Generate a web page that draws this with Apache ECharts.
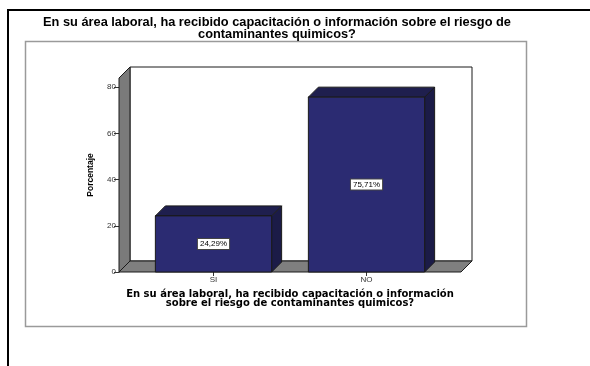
<!DOCTYPE html>
<html>
<head>
<meta charset="utf-8">
<script src="https://cdn.jsdelivr.net/npm/echarts@6/dist/echarts.min.js"></script>
<style>
  html, body { margin: 0; padding: 0; background: #fff; }
  #chart { width: 590px; height: 366px; }
</style>
</head>
<body>
<div id="chart"></div>
<script>
// Data
const categories = ['SI', 'NO'];
const percentages = [24.29, 75.71];
const yTicks = [0, 20, 40, 60, 80];

// Texts
const chartTitle = 'En su área laboral, ha recibido capacitación o información sobre el riesgo de\ncontaminantes quimicos?';
const xAxisTitle = 'En su área laboral, ha recibido capacitación o información\nsobre el riesgo de contaminantes quimicos?';
const yAxisTitle = 'Porcentaje';

// 3D look
const BAR_DEPTH = 10;
const WALL_DEPTH = 11;
const FLOOR_PAD = 18;
const BAR_RATIO = 0.76;
const EDGE = '#1a1a1a';

function formatPct(v) {
  return v.toFixed(2).replace('.', ',') + '%';
}

// Side wall, back wall and floor of the 3D box
function renderBackdrop(params, api) {
  const cs = params.coordSys;
  const top = cs.y;
  const base = cs.y + cs.height;
  const xl = cs.x - FLOOR_PAD;
  const xr = cs.x + cs.width + FLOOR_PAD;
  const d = WALL_DEPTH;
  return {
    type: 'group',
    children: [
      {
        type: 'rect',
        shape: { x: xl + d, y: top - d, width: xr - xl, height: base - top },
        style: { fill: '#ffffff', stroke: EDGE, lineWidth: 1 }
      },
      {
        type: 'polygon',
        shape: { points: [[xl, top], [xl + d, top - d], [xl + d, base - d], [xl, base]] },
        style: { fill: '#7a7a7a', stroke: EDGE, lineWidth: 1 }
      },
      {
        type: 'polygon',
        shape: { points: [[xl, base], [xl + d, base - d], [xr + d, base - d], [xr, base]] },
        style: { fill: '#7f7f7f', stroke: EDGE, lineWidth: 1 }
      }
    ]
  };
}

// Extruded bar with a boxed value label on its front face
function renderBar(params, api) {
  const idx = api.value(0);
  const val = api.value(1);
  const topPt = api.coord([idx, val]);
  const basePt = api.coord([idx, 0]);
  const w = api.size([1, 0])[0] * BAR_RATIO;
  const x0 = topPt[0] - w / 2, x1 = topPt[0] + w / 2;
  const y0 = topPt[1], y1 = basePt[1];
  const d = BAR_DEPTH;
  return {
    type: 'group',
    children: [
      {
        type: 'polygon',
        shape: { points: [[x1, y0], [x1 + d, y0 - d], [x1 + d, y1 - d], [x1, y1]] },
        style: { fill: '#1b1b47', stroke: EDGE, lineWidth: 1 }
      },
      {
        type: 'polygon',
        shape: { points: [[x0, y0], [x0 + d, y0 - d], [x1 + d, y0 - d], [x1, y0]] },
        style: { fill: '#1f1f4e', stroke: EDGE, lineWidth: 1 }
      },
      {
        type: 'rect',
        shape: { x: x0, y: y0, width: w, height: y1 - y0 },
        style: { fill: '#2b2b72', stroke: EDGE, lineWidth: 1 }
      },
      {
        type: 'text',
        x: topPt[0],
        y: (y0 + y1) / 2,
        style: {
          text: formatPct(val),
          fill: '#000',
          font: '8px "Liberation Sans", Arial, sans-serif',
          align: 'center',
          verticalAlign: 'middle',
          backgroundColor: '#ffffff',
          borderColor: '#444',
          borderWidth: 1,
          padding: [1, 2, 1, 2]
        }
      }
    ]
  };
}

const chart = echarts.init(document.getElementById('chart'), null, { renderer: 'canvas' });

chart.setOption({
  animation: false,
  backgroundColor: '#ffffff',
  title: {
    text: chartTitle,
    left: 277,
    top: 17,
    padding: 0,
    textAlign: 'center',
    textStyle: {
      fontFamily: '"Liberation Sans", Arial, sans-serif',
      fontSize: 12.8,
      fontWeight: 'bold',
      lineHeight: 11.5,
      color: '#000'
    }
  },
  graphic: [
    { type: 'line', shape: { x1: 8, y1: 10, x2: 590, y2: 10 }, style: { stroke: '#000', lineWidth: 2 } },
    { type: 'line', shape: { x1: 8, y1: 9, x2: 8, y2: 366 }, style: { stroke: '#000', lineWidth: 2 } },
    { type: 'rect', shape: { x: 25.5, y: 41.5, width: 501, height: 285 }, style: { fill: 'none', stroke: '#9a9a9a', lineWidth: 1.5 }, z: -10 }
  ],
  grid: { left: 137, top: 78, width: 306, height: 194 },
  xAxis: {
    type: 'category',
    data: categories,
    axisLine: { show: false },
    axisTick: { show: true, alignWithLabel: true, length: 4, lineStyle: { color: '#333' } },
    axisLabel: { fontSize: 8, color: '#333', margin: 4, fontFamily: '"Liberation Sans", Arial, sans-serif' },
    splitLine: { show: false },
    name: xAxisTitle,
    nameLocation: 'middle',
    nameGap: 18,
    nameTextStyle: {
      fontFamily: '"DejaVu Sans", sans-serif',
      fontSize: 10,
      fontWeight: 'bold',
      lineHeight: 9,
      color: '#000'
    }
  },
  yAxis: {
    type: 'value',
    min: 0,
    max: 84,
    offset: 18,
    axisLine: { show: true, lineStyle: { color: '#1a1a1a' } },
    axisTick: { show: true, length: 5, customValues: yTicks, lineStyle: { color: '#333' } },
    axisLabel: { customValues: yTicks, fontSize: 8, color: '#333', margin: 3, fontFamily: '"Liberation Sans", Arial, sans-serif' },
    splitLine: { show: false },
    name: yAxisTitle,
    nameLocation: 'middle',
    nameGap: 24,
    nameRotate: 90,
    nameTextStyle: {
      fontFamily: '"Liberation Sans", Arial, sans-serif',
      fontSize: 8.5,
      fontWeight: 'bold',
      color: '#000'
    }
  },
  series: [
    {
      type: 'custom',
      name: 'backdrop',
      z: 1,
      silent: true,
      data: [[0, 0]],
      renderItem: renderBackdrop
    },
    {
      type: 'custom',
      name: 'Porcentaje',
      z: 2,
      data: percentages.map((v, i) => [i, v]),
      renderItem: renderBar
    }
  ]
});
</script>
</body>
</html>
